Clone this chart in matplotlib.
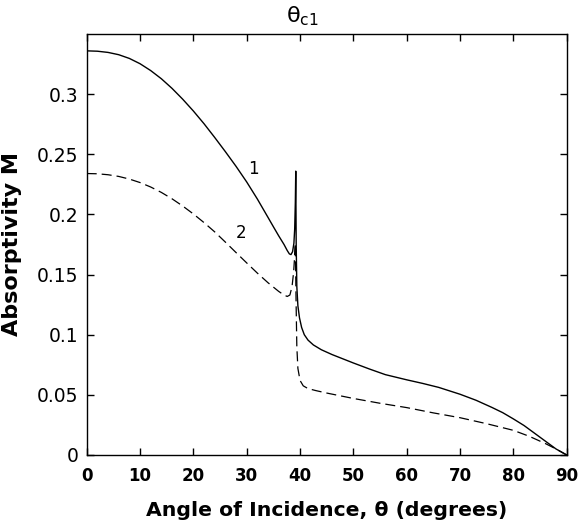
import matplotlib
matplotlib.use("Agg")
import matplotlib.pyplot as plt
from matplotlib.ticker import FormatStrFormatter

plt.rcParams['font.family'] = ['DejaVu Sans']

# curve 1 (solid)
angle_1 = [0, 2, 4, 6, 8, 10, 12, 14, 16, 18, 20, 22, 24, 26, 28, 30, 32, 34,
           35, 36, 37, 37.6, 38.0, 38.3, 38.6, 38.85, 39.0, 39.12, 39.2,
           39.28, 39.4, 39.6, 39.9, 40.3, 40.8, 41.5, 42.5, 44, 46, 48, 50,
           53, 56, 60, 63, 66, 70, 73, 76, 78, 80, 82, 84, 86, 88, 90]
absorb_1 = [0.3360, 0.3357, 0.3347, 0.3328, 0.3297, 0.3253, 0.3196, 0.3128,
            0.3048, 0.2958, 0.2860, 0.2754, 0.2640, 0.2522, 0.2400, 0.2270,
            0.2128, 0.1975, 0.1898, 0.1822, 0.1750, 0.1700, 0.1672, 0.1666,
            0.1690, 0.1760, 0.1880, 0.2100, 0.2360, 0.1750, 0.1400, 0.1240,
            0.1140, 0.1060, 0.1000, 0.0955, 0.0915, 0.0875, 0.0835, 0.0800,
            0.0765, 0.0715, 0.0668, 0.0625, 0.0595, 0.0562, 0.0505, 0.0455,
            0.0395, 0.0352, 0.0300, 0.0245, 0.0180, 0.0115, 0.0050, 0.0]

# curve 2 (dashed)
angle_2 = [0, 2, 4, 6, 8, 10, 12, 14, 16, 18, 20, 22, 24, 26, 28, 30, 32, 34,
           36, 37, 37.6, 38.1, 38.5, 38.8, 39.0, 39.12, 39.25, 39.4, 39.6,
           40.0, 40.6, 41.5, 43, 45, 50, 55, 60, 65, 70, 75, 80, 83, 86, 88, 90]
absorb_2 = [0.2340, 0.2338, 0.2330, 0.2316, 0.2294, 0.2265, 0.2228, 0.2183,
            0.2130, 0.2070, 0.2004, 0.1932, 0.1855, 0.1770, 0.1683, 0.1597,
            0.1512, 0.1432, 0.1360, 0.1330, 0.1318, 0.1330, 0.1400, 0.1520,
            0.1660, 0.1760, 0.1300, 0.0900, 0.0720, 0.0620, 0.0575, 0.0552,
            0.0535, 0.0515, 0.0470, 0.0430, 0.0394, 0.0350, 0.0310, 0.0260,
            0.0205, 0.0155, 0.0095, 0.0050, 0.0]

x_ticks = [0, 10, 20, 30, 40, 50, 60, 70, 80, 90]
y_ticks = [0, 0.05, 0.1, 0.15, 0.2, 0.25, 0.3]

fig = plt.figure(figsize=(5.81, 5.24), dpi=100)
ax = fig.add_axes([0.1492, 0.1317, 0.8262, 0.8034])

ax.plot(angle_1, absorb_1, color='black', lw=1.0)
ax.plot(angle_2, absorb_2, color='black', lw=0.9, linestyle=(0, (8, 4)))

ax.set_xlim(0, 90)
ax.set_ylim(0, 0.35)
ax.set_xticks(x_ticks)
ax.set_yticks(y_ticks)
ax.yaxis.set_major_formatter(FormatStrFormatter('%g'))

ax.tick_params(direction='in', length=5, width=1, top=True, right=True)
ax.tick_params(axis='x', labelsize=12, pad=9)
ax.tick_params(axis='y', labelsize=13.5, pad=6)
for lab in ax.get_xticklabels():
    lab.set_fontweight('bold')
for sp in ax.spines.values():
    sp.set_linewidth(1.0)

ax.set_xlabel('Angle of Incidence, θ (degrees)', fontsize=14.7, fontweight='bold', labelpad=11)
ax.set_ylabel('Absorptivity M', fontsize=16, fontweight='bold', labelpad=11)

# curve labels
ax.text(31.3, 0.2375, '1', fontsize=12, ha='center', va='center')
ax.text(28.9, 0.1845, '2', fontsize=12, ha='center', va='center')

# critical angle marker above the frame
ax.text(37.4, 1.014, r'$\mathregular{\theta_{c1}}$', fontsize=16,
        transform=ax.get_xaxis_transform(), ha='left', va='bottom')

fig.savefig('out.png', dpi=100)
